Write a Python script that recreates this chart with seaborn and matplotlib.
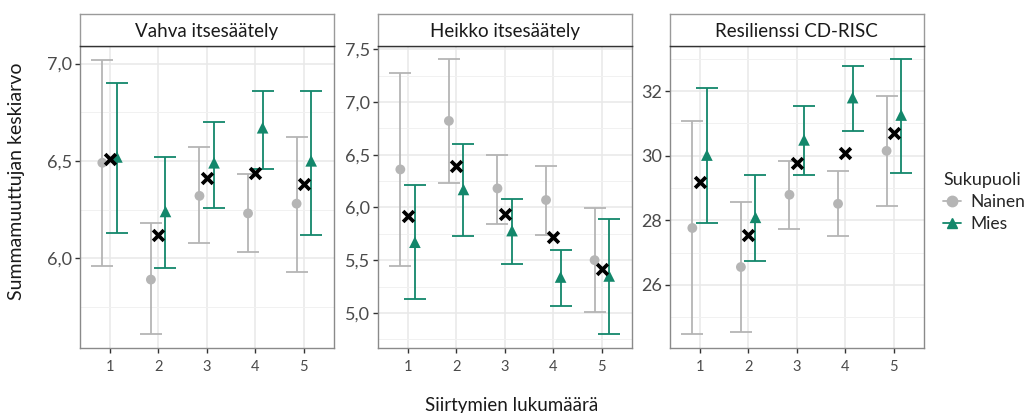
import seaborn as sns
import matplotlib.pyplot as plt
import matplotlib.ticker as mticker
from matplotlib.lines import Line2D
import pandas as pd
import numpy as np

# Data
panels = ['Vahva itsesäätely', 'Heikko itsesäätely', 'Resilienssi CD-RISC']
transitions = [1, 2, 3, 4, 5]
groups = ['Nainen', 'Mies']

# Vahva itsesäätely
vahva_nainen = [6.49, 5.89, 6.32, 6.23, 6.28]
vahva_nainen_lo = [5.96, 5.61, 6.08, 6.03, 5.93]
vahva_nainen_hi = [7.02, 6.18, 6.57, 6.43, 6.62]
vahva_mies = [6.52, 6.24, 6.49, 6.67, 6.50]
vahva_mies_lo = [6.13, 5.95, 6.26, 6.46, 6.12]
vahva_mies_hi = [6.90, 6.52, 6.70, 6.86, 6.86]
vahva_total = [6.51, 6.12, 6.41, 6.44, 6.38]

# Heikko itsesäätely
heikko_nainen = [6.36, 6.82, 6.18, 6.07, 5.50]
heikko_nainen_lo = [5.44, 6.23, 5.84, 5.74, 5.01]
heikko_nainen_hi = [7.27, 7.41, 6.50, 6.39, 5.99]
heikko_mies = [5.67, 6.17, 5.78, 5.34, 5.35]
heikko_mies_lo = [5.13, 5.73, 5.46, 5.07, 4.80]
heikko_mies_hi = [6.21, 6.60, 6.08, 5.60, 5.89]
heikko_total = [5.92, 6.39, 5.94, 5.72, 5.42]

# Resilienssi CD-RISC
resil_nainen = [27.76, 26.55, 28.79, 28.51, 30.15]
resil_nainen_lo = [24.46, 24.55, 27.74, 27.50, 28.45]
resil_nainen_hi = [31.09, 28.56, 29.83, 29.52, 31.86]
resil_mies = [30.02, 28.09, 30.49, 31.80, 31.26]
resil_mies_lo = [27.92, 26.73, 29.39, 30.77, 29.46]
resil_mies_hi = [32.09, 29.40, 31.54, 32.78, 33.00]
resil_total = [29.19, 27.54, 29.76, 30.08, 30.69]

# axis setup per panel
y_limits = [(5.54, 7.09), (4.67, 7.53), (24.05, 33.40)]
y_major = [[6.0, 6.5, 7.0], [5.0, 5.5, 6.0, 6.5, 7.0, 7.5], [26, 28, 30, 32]]
y_decimals = [1, 1, 0]

series = {
    panels[0]: [(vahva_nainen, vahva_nainen_lo, vahva_nainen_hi),
                (vahva_mies, vahva_mies_lo, vahva_mies_hi), vahva_total],
    panels[1]: [(heikko_nainen, heikko_nainen_lo, heikko_nainen_hi),
                (heikko_mies, heikko_mies_lo, heikko_mies_hi), heikko_total],
    panels[2]: [(resil_nainen, resil_nainen_lo, resil_nainen_hi),
                (resil_mies, resil_mies_lo, resil_mies_hi), resil_total],
}

rows = []
for p in panels:
    for g, (m, lo, hi) in zip(groups, series[p][:2]):
        for x, a, b, c in zip(transitions, m, lo, hi):
            rows.append(dict(panel=p, Sukupuoli=g, x=x, mean=a, lo=b, hi=c))
df = pd.DataFrame(rows)
totals = pd.DataFrame([dict(panel=p, x=x, mean=t)
                       for p in panels for x, t in zip(transitions, series[p][2])])

colors = {'Nainen': '#b5b5b5', 'Mies': '#13876b'}
markers = {'Nainen': 'o', 'Mies': '^'}
dodge = {'Nainen': -0.15, 'Mies': 0.15}
df['xpos'] = df['x'] + df['Sukupuoli'].map(dodge)

sns.set_theme(style='white')
plt.rcParams['font.family'] = ['Lato', 'DejaVu Sans']

W, H = 1034, 413
fig = plt.figure(figsize=(W / 100, H / 100), dpi=100)

lefts = [79.5, 377.5, 669.5]
pw = 254.5
ptop, pbot = 46, 347.7
strip_top = 14

for i, p in enumerate(panels):
    ax = fig.add_axes([lefts[i] / W, (H - pbot) / H, pw / W, (pbot - ptop) / H])
    sub = df[df['panel'] == p]

    # grid
    ax.set_xlim(0.38, 5.62)
    ax.set_ylim(*y_limits[i])
    ax.set_xticks(transitions)
    ax.set_yticks(y_major[i])
    step = y_major[i][1] - y_major[i][0]
    minor = np.arange(y_major[i][0] - step / 2, y_limits[i][1], step)
    ax.set_yticks(minor, minor=True)
    ax.grid(True, which='major', color='#e8e8e8', lw=1.1)
    ax.grid(True, which='minor', axis='y', color='#f1f1f1', lw=0.7)
    ax.set_axisbelow(True)

    for g in groups:
        s = sub[sub['Sukupuoli'] == g]
        ax.errorbar(s['xpos'], s['mean'],
                    yerr=[s['mean'] - s['lo'], s['hi'] - s['mean']],
                    fmt='none', ecolor=colors[g], elinewidth=1.3,
                    capsize=7.8, capthick=1.3, zorder=2)
    sns.scatterplot(data=sub, x='xpos', y='mean', hue='Sukupuoli', style='Sukupuoli',
                    size='Sukupuoli', sizes={'Nainen': 50, 'Mies': 70},
                    palette=colors, markers=markers, linewidth=0,
                    legend=False, ax=ax, zorder=3)
    t = totals[totals['panel'] == p]
    sns.scatterplot(data=t, x='x', y='mean', marker='x', color='black', s=60,
                    linewidth=2.7, legend=False, ax=ax, zorder=4)

    d = y_decimals[i]
    ax.yaxis.set_major_formatter(mticker.FuncFormatter(
        lambda v, pos, d=d: f'{v:.{d}f}'.replace('.', ',')))
    ax.tick_params(axis='y', which='major', labelsize=13, colors='#333333',
                   labelcolor='#4a4a4a', length=3.5, width=1, left=True, pad=2)
    ax.tick_params(axis='y', which='minor', length=0)
    ax.tick_params(axis='x', labelsize=10.5, colors='#333333', labelcolor='#4a4a4a',
                   length=3.5, width=1, bottom=True, pad=5)
    ax.set_xlabel('')
    ax.set_ylabel('')
    for sp in ax.spines.values():
        sp.set_color('#8a8a8a')
        sp.set_linewidth(1)

    # facet strip
    sax = fig.add_axes([lefts[i] / W, (H - ptop) / H, pw / W, (ptop - strip_top) / H])
    sax.set_xticks([])
    sax.set_yticks([])
    sax.set_facecolor('white')
    for sp in sax.spines.values():
        sp.set_color('#9a9a9a')
        sp.set_linewidth(1)
    sax.spines['bottom'].set_color('#333333')
    sax.text(0.5, 0.45, p, ha='center', va='center', fontsize=13.5, color='#1a1a1a')

fig.text(17 / W, 1 - 181 / H, 'Summamuuttujan keskiarvo', rotation=90,
         ha='center', va='center', fontsize=14, color='#1a1a1a')
fig.text(512 / W, 1 - 406 / H, 'Siirtymien lukumäärä', ha='center', va='center',
         fontsize=13.5, color='#1a1a1a')

handles = [Line2D([], [], color=colors[g], marker=markers[g], markersize=7.5, lw=1.3)
           for g in groups]
leg = fig.legend(handles, groups, title='Sukupuoli', loc='center left',
                 bbox_to_anchor=(943 / W, 1 - 202 / H), frameon=False,
                 fontsize=12.5, title_fontsize=13, handlelength=1.05,
                 handletextpad=0.55, labelspacing=0.35, alignment='left',
                 borderpad=0, borderaxespad=0)

fig.savefig('out.png', dpi=100)
